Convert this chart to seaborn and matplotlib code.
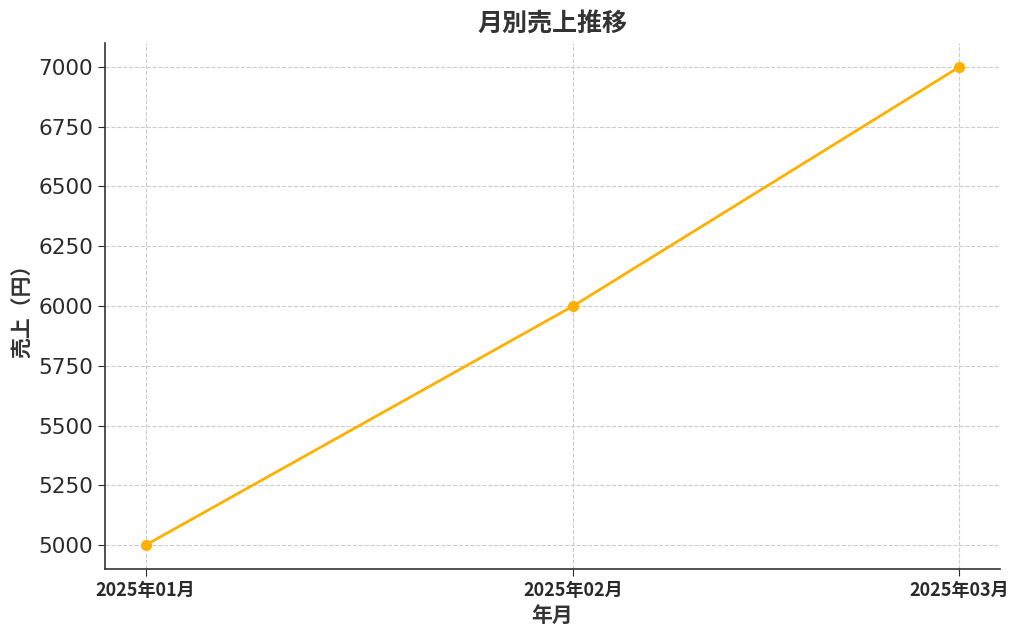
import seaborn as sns
import matplotlib.pyplot as plt
import matplotlib.dates as mdates
import pandas as pd

# data
months = ["2025-01", "2025-02", "2025-03"]
sales = [5000, 6000, 7000]

sns.set_style("ticks")
plt.rcParams['font.family'] = ['DejaVu Sans', 'Noto Sans CJK JP']
plt.rcParams['axes.unicode_minus'] = False

df = pd.DataFrame({"年月": pd.to_datetime(months), "売上": sales})

fig, ax = plt.subplots(figsize=(10.24, 6.37), dpi=100)
fig.subplots_adjust(left=0.1025, right=0.9766, bottom=0.1068, top=0.9325)

sns.lineplot(data=df, x="年月", y="売上", ax=ax, color="#FFB000",
             linewidth=2, marker="o", markersize=8, markeredgewidth=0)

ax.grid(True, linestyle="--", color="#cccccc", linewidth=0.8)
ax.set_axisbelow(True)
sns.despine(ax=ax)
for s in ["left", "bottom"]:
    ax.spines[s].set_color("#333333")
    ax.spines[s].set_linewidth(1.2)

ax.set_xticks(df["年月"])
ax.xaxis.set_major_formatter(mdates.DateFormatter("%Y年%m月"))
for lbl in ax.get_xticklabels():
    lbl.set_family(["Noto Sans CJK JP", "DejaVu Sans"])
    lbl.set_fontweight("bold")
    lbl.set_fontsize(13)
ax.tick_params(axis="y", labelsize=15.5, colors="#2a2a2a", length=5)
ax.tick_params(axis="x", colors="#2a2a2a", length=5)

cjk = ["Noto Sans CJK JP", "DejaVu Sans"]
ax.set_title("月別売上推移", fontsize=18, fontweight="bold", color="#333333",
             family=cjk, pad=8)
ax.set_xlabel("年月", fontsize=15, fontweight="bold", color="#333333", family=cjk)
ax.set_ylabel("売上（円）", fontsize=15, fontweight="bold", color="#333333", family=cjk)

fig.savefig("out.png", dpi=100)
